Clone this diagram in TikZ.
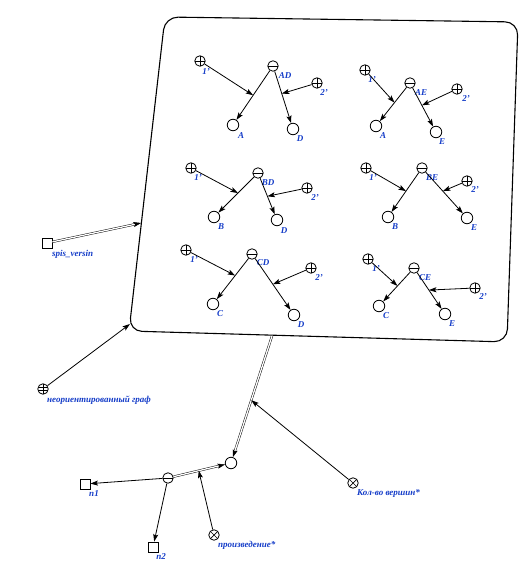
\documentclass[tikz,border=0pt]{standalone}
\usepackage{fontspec}
\setmainfont{Liberation Serif}
\usetikzlibrary{arrows.meta}
\definecolor{lblblue}{RGB}{20,60,200}
\begin{document}
\begin{tikzpicture}[x=1pt,y=-1pt,
  sym/.style={circle,draw,line width=0.8pt,minimum size=10.5pt,inner sep=0pt},
  posnode/.style={sym,path picture={\draw[line width=0.7pt]
      (path picture bounding box.north) -- (path picture bounding box.south)
      (path picture bounding box.west) -- (path picture bounding box.east);}},
  negnode/.style={sym,path picture={\draw[line width=0.7pt]
      (path picture bounding box.west) -- (path picture bounding box.east);}},
  mulnode/.style={sym,path picture={\draw[line width=0.7pt]
      (path picture bounding box.north west) -- (path picture bounding box.south east)
      (path picture bounding box.south west) -- (path picture bounding box.north east);}},
  gridnode/.style={sym,path picture={\draw[line width=0.6pt]
      (path picture bounding box.north) -- (path picture bounding box.south)
      ([yshift=-1.7pt]path picture bounding box.west) -- ([yshift=-1.7pt]path picture bounding box.east)
      ([yshift=1.7pt]path picture bounding box.west) -- ([yshift=1.7pt]path picture bounding box.east);}},
  objnode/.style={sym,minimum size=11.5pt},
  sqnode/.style={rectangle,draw,line width=0.8pt,minimum size=10pt,inner sep=0pt},
  lbl/.style={font=\fontsize{9}{10}\selectfont\itshape\bfseries,text=lblblue,inner sep=0pt},
  wlbl/.style={lbl,anchor=west},
  arr/.style={line width=0.8pt,-{Stealth[length=7.5pt,width=5pt,inset=1.5pt]}},
  dblarr/.style={double,double distance=1.3pt,line width=0.45pt,
      -{Stealth[length=7.5pt,width=5pt,inset=1.5pt]}},
  frame/.style={line width=1.1pt,rounded corners=13pt}
]
\useasboundingbox (0,0) rectangle (527,585);

% the framed compound object
\draw[frame] (165,17) -- (518,22) -- (507,342) -- (129,331) -- cycle;
\coordinate (frameleft) at (141,223);
\coordinate (framecorner) at (130,324);
\coordinate (framebottom) at (272,336);

% group AD
\node[posnode] (g1p) at (200,61) {};
\node[negnode] (g1n) at (273,66) {};
\node[posnode] (g1q) at (317,83) {};
\node[objnode] (g1a) at (233,125) {};
\node[objnode] (g1b) at (293,129) {};
\node[lbl] (g1pl) at (206,72) {1'};
\node[lbl] (g1nl) at (285,76) {AD};
\node[lbl] (g1ql) at (324,93) {2'};
\node[lbl] (g1al) at (241,136) {A};
\node[lbl] (g1bl) at (300,139) {D};
\draw[arr] (g1n) -- (g1a) coordinate[pos=0.5] (g1ma);
\draw[arr] (g1n) -- (g1b) coordinate[pos=0.43] (g1mb);
\draw[arr] (g1p) -- (g1ma);
\draw[arr] (g1q) -- (g1mb);

% group AE
\node[posnode] (g2p) at (365,70) {};
\node[negnode] (g2n) at (410,83) {};
\node[posnode] (g2q) at (457,89) {};
\node[objnode] (g2a) at (376,126) {};
\node[objnode] (g2b) at (436,132) {};
\node[lbl] (g2pl) at (372,80) {1'};
\node[lbl] (g2nl) at (421,93) {AE};
\node[lbl] (g2ql) at (466,99) {2'};
\node[lbl] (g2al) at (383,136) {A};
\node[lbl] (g2bl) at (442,142) {E};
\draw[arr] (g2n) -- (g2a) coordinate[pos=0.45] (g2ma);
\draw[arr] (g2n) -- (g2b) coordinate[pos=0.45] (g2mb);
\draw[arr] (g2p) -- (g2ma);
\draw[arr] (g2q) -- (g2mb);

% group BD
\node[posnode] (g3p) at (191,168) {};
\node[negnode] (g3n) at (258,173) {};
\node[posnode] (g3q) at (307,188) {};
\node[objnode] (g3a) at (214,217) {};
\node[objnode] (g3b) at (277,220) {};
\node[lbl] (g3pl) at (198,178) {1'};
\node[lbl] (g3nl) at (268,183) {BD};
\node[lbl] (g3ql) at (315,198) {2'};
\node[lbl] (g3al) at (221,227) {B};
\node[lbl] (g3bl) at (284,231) {D};
\draw[arr] (g3n) -- (g3a) coordinate[pos=0.45] (g3ma);
\draw[arr] (g3n) -- (g3b) coordinate[pos=0.5] (g3mb);
\draw[arr] (g3p) -- (g3ma);
\draw[arr] (g3q) -- (g3mb);

% group BE
\node[posnode] (g4p) at (366,168) {};
\node[negnode] (g4n) at (422,168) {};
\node[posnode] (g4q) at (467,181) {};
\node[objnode] (g4a) at (388,217) {};
\node[objnode] (g4b) at (467,218) {};
\node[lbl] (g4pl) at (373,178) {1'};
\node[lbl] (g4nl) at (432,178) {BE};
\node[lbl] (g4ql) at (475,190) {2'};
\node[lbl] (g4al) at (395,227) {B};
\node[lbl] (g4bl) at (474,228) {E};
\draw[arr] (g4n) -- (g4a) coordinate[pos=0.47] (g4ma);
\draw[arr] (g4n) -- (g4b) coordinate[pos=0.46] (g4mb);
\draw[arr] (g4p) -- (g4ma);
\draw[arr] (g4q) -- (g4mb);

% group CD
\node[posnode] (g5p) at (186,250) {};
\node[negnode] (g5n) at (252,254) {};
\node[posnode] (g5q) at (311,268) {};
\node[objnode] (g5a) at (213,304) {};
\node[objnode] (g5b) at (294,315) {};
\node[lbl] (g5pl) at (194,260) {1'};
\node[lbl] (g5nl) at (263,263) {CD};
\node[lbl] (g5ql) at (319,278) {2'};
\node[lbl] (g5al) at (220,314) {C};
\node[lbl] (g5bl) at (301,325) {D};
\draw[arr] (g5n) -- (g5a) coordinate[pos=0.42] (g5ma);
\draw[arr] (g5n) -- (g5b) coordinate[pos=0.5] (g5mb);
\draw[arr] (g5p) -- (g5ma);
\draw[arr] (g5q) -- (g5mb);

% group CE
\node[posnode] (g6p) at (368,259) {};
\node[negnode] (g6n) at (414,268) {};
\node[posnode] (g6q) at (475,288) {};
\node[objnode] (g6a) at (379,306) {};
\node[objnode] (g6b) at (445,314) {};
\node[lbl] (g6pl) at (376,269) {1'};
\node[lbl] (g6nl) at (425,278) {CE};
\node[lbl] (g6ql) at (483,297) {2'};
\node[lbl] (g6al) at (386,316) {C};
\node[lbl] (g6bl) at (452,324) {E};
\draw[arr] (g6n) -- (g6a) coordinate[pos=0.47] (g6ma);
\draw[arr] (g6n) -- (g6b) coordinate[pos=0.48] (g6mb);
\draw[arr] (g6p) -- (g6ma);
\draw[arr] (g6q) -- (g6mb);

% outer objects
\node[sqnode] (spis) at (47,243) {};
\node[wlbl] (spisl) at (52,254) {spis\_versin};
\draw[dblarr] (spis) -- (frameleft);

\node[gridnode] (graph) at (43,389) {};
\node[wlbl] (graphl) at (47,400) {неориентированный граф};
\draw[arr] (graph) -- (framecorner);

\node[objnode] (res) at (231,463) {};
\node[negnode] (prod) at (168,478) {};
\node[sqnode] (n1) at (85,484) {};
\node[lbl] (n1l) at (94,494) {n1};
\node[sqnode] (n2) at (153,547) {};
\node[lbl] (n2l) at (161,557) {n2};
\node[mulnode] (mult) at (214,535) {};
\node[wlbl] (multl) at (218,545) {произведение*};
\node[mulnode] (cnt) at (353,483) {};
\node[wlbl] (cntl) at (357,493) {Кол-во вершин*};

\draw[dblarr] (framebottom) -- (res) coordinate[pos=0.53] (mtop);
\draw[dblarr] (prod) -- (res) coordinate[pos=0.49] (mprod);
\draw[arr] (prod) -- (n1);
\draw[arr] (prod) -- (n2);
\draw[arr] (mult) -- (mprod);
\draw[arr] (cnt) -- (mtop);
\end{tikzpicture}
\end{document}
